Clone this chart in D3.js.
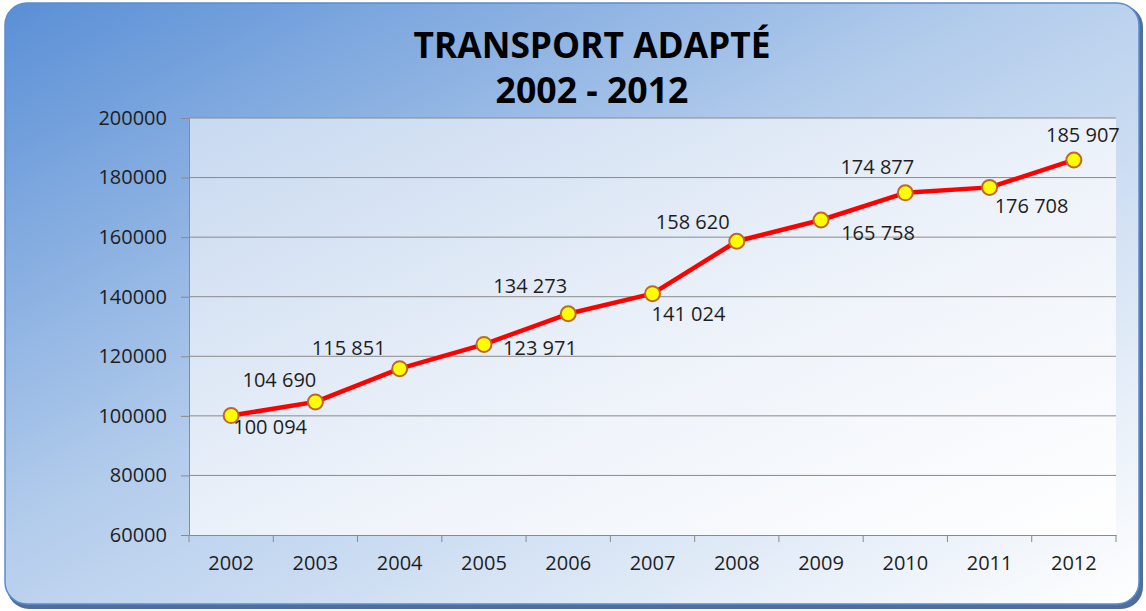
<!DOCTYPE html>
<html>
<head>
<meta charset="utf-8">
<script src="https://cdn.jsdelivr.net/npm/d3@7"></script>
<style>
  body { margin: 0; background: #ffffff; }
  svg text { font-family: "Open Sans", "Noto Sans", sans-serif; fill: #1e1e1e; }
</style>
</head>
<body>
<div id="chart"></div>
<script>
// data
var years = ["2002", "2003", "2004", "2005", "2006", "2007", "2008", "2009", "2010", "2011", "2012"]
var riders = [100094, 104690, 115851, 123971, 134273, 141024, 158620, 165758, 174877, 176708, 185907]
var yTicks = [60000, 80000, 100000, 120000, 140000, 160000, 180000, 200000]
var titleLines = ["TRANSPORT ADAPTÉ", "2002 - 2012"]
// where each value label sits relative to its point (manual placement like in Excel)
var labelOffset = [[39, 11], [-36, -22], [-51, -21], [56, 4], [-38, -28], [36, 20],
                   [-44, -19], [57, 13], [-28, -26], [42, 19], [9, -25]]

var dims = {
    width: 1146,
    height: 611,
    margin: {top: 118, right: 30, bottom: 76, left: 189}
}
var plotW = 1116 - dims.margin.left
var plotH = 535 - dims.margin.top

var svg = d3.select("#chart")
    .append("svg")
    .attr("width", dims.width)
    .attr("height", dims.height)

var defs = svg.append("defs")

// outer background gradient (blue top-left -> white bottom-right)
var bg = defs.append("linearGradient").attr("id", "bgGrad")
    .attr("x1", "0%").attr("y1", "0%").attr("x2", "100%").attr("y2", "100%")
bg.append("stop").attr("offset", "0%").attr("stop-color", "#5a8fd6")
bg.append("stop").attr("offset", "45%").attr("stop-color", "#b4cdec")
bg.append("stop").attr("offset", "100%").attr("stop-color", "#ffffff")

var pg = defs.append("linearGradient").attr("id", "plotGrad")
    .attr("x1", "0%").attr("y1", "0%").attr("x2", "100%").attr("y2", "100%")
pg.append("stop").attr("offset", "0%").attr("stop-color", "#c8d9f0")
pg.append("stop").attr("offset", "55%").attr("stop-color", "#eef3fa")
pg.append("stop").attr("offset", "100%").attr("stop-color", "#ffffff")

// frame with shadow
svg.append("rect")
    .attr("x", 7).attr("y", 5)
    .attr("width", 1136).attr("height", 604)
    .attr("rx", 22)
    .attr("fill", "#4e6f9c")
svg.append("rect")
    .attr("x", 5).attr("y", 3)
    .attr("width", 1134).attr("height", 601)
    .attr("rx", 22)
    .attr("fill", "url(#bgGrad)")
    .attr("stroke", "#5c8ccc")
    .attr("stroke-width", 1.5)

// title
svg.selectAll(".title")
    .data(titleLines)
    .enter()
    .append("text")
    .attr("class", "title")
    .attr("x", 592)
    .attr("y", (d, i) => 58 + i * 45)
    .attr("text-anchor", "middle")
    .attr("font-size", "36px")
    .attr("font-weight", "bold")
    .attr("textLength", (d, i) => i == 0 ? 357 : 193)
    .attr("lengthAdjust", "spacingAndGlyphs")
    .style("fill", "#000")
    .text(d => d)

var g = svg.append("g")
    .attr("transform", `translate(${dims.margin.left},${dims.margin.top})`)

var x = d3.scaleBand().domain(years).range([0, plotW])
var y = d3.scaleLinear().domain([60000, 200000]).range([plotH, 0])

g.append("rect")
    .attr("width", plotW).attr("height", plotH)
    .attr("fill", "url(#plotGrad)")

// gridlines
g.selectAll(".grid")
    .data(yTicks.slice(1))
    .enter()
    .append("line")
    .attr("x1", 0).attr("x2", plotW)
    .attr("y1", d => y(d)).attr("y2", d => y(d))
    .attr("stroke", "#8a8a8a")
    .attr("stroke-width", 1)

// y axis
var yAxis = g.append("g")
    .call(d3.axisLeft(y).tickValues(yTicks).tickSize(8).tickPadding(14).tickFormat(d3.format("d")))
yAxis.select(".domain").attr("stroke", "#8a8a8a")
yAxis.selectAll(".tick line").attr("stroke", "#8a8a8a")
yAxis.selectAll("text").attr("font-size", "20px").style("fill", "#1e1e1e")

// x axis, ticks at category boundaries
var xAxis = g.append("g")
    .attr("transform", `translate(0,${plotH})`)
    .call(d3.axisBottom(x).tickSize(0).tickPadding(21))
xAxis.select(".domain").attr("stroke", "#8a8a8a")
xAxis.selectAll("text").attr("font-size", "20px").style("fill", "#1e1e1e")
g.append("g").selectAll("line")
    .data(years)
    .enter()
    .append("line")
    .attr("x1", d => x(d) + x.bandwidth()).attr("x2", d => x(d) + x.bandwidth())
    .attr("y1", plotH).attr("y2", plotH + 7)
    .attr("stroke", "#8a8a8a")
g.append("line")
    .attr("x1", 0).attr("x2", 0).attr("y1", plotH).attr("y2", plotH + 7)
    .attr("stroke", "#8a8a8a")

var cx = (d, i) => x(years[i]) + x.bandwidth() / 2

// line
var line = d3.line()
    .x((d, i) => cx(d, i))
    .y(d => y(d))
g.append("path")
    .datum(riders)
    .attr("d", line)
    .attr("fill", "none")
    .attr("stroke", "#ff0000")
    .attr("stroke-width", 4.5)
    .attr("stroke-linejoin", "round")

// markers
g.selectAll(".dot")
    .data(riders)
    .enter()
    .append("circle")
    .attr("cx", (d, i) => cx(d, i))
    .attr("cy", d => y(d))
    .attr("r", 7.5)
    .attr("fill", "#ffff00")
    .attr("stroke", "#c0662c")
    .attr("stroke-width", 2)

// value labels
var fmt = d => d3.format(",")(d).replace(",", " ")
g.selectAll(".lbl")
    .data(riders)
    .enter()
    .append("text")
    .attr("x", (d, i) => cx(d, i) + labelOffset[i][0])
    .attr("y", (d, i) => y(d) + labelOffset[i][1])
    .attr("dy", "0.35em")
    .attr("text-anchor", "middle")
    .attr("font-size", "20px")
    .text(fmt)
</script>
</body>
</html>
